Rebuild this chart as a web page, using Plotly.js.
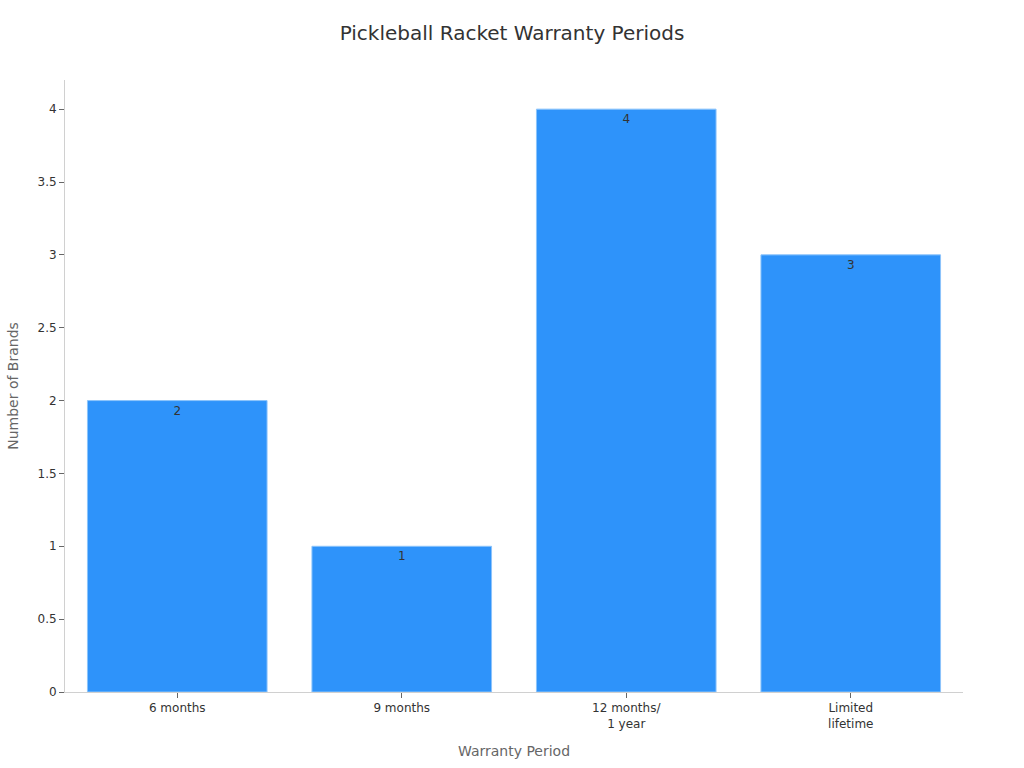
<!DOCTYPE html>
<html>
<head>
<meta charset="utf-8">
<script src="https://cdn.plot.ly/plotly-3.0.1.min.js"></script>
<style>
  html, body { margin: 0; padding: 0; background: #fff; }
  #chart { width: 1024px; height: 768px; }
</style>
</head>
<body>
<div id="chart"></div>
<script>
const periods = ["6 months", "9 months", "12 months/<br>1 year", "Limited<br>lifetime"];
const brandCounts = [2, 1, 4, 3];

Plotly.newPlot('chart', [
  {
    x: periods,
    y: brandCounts,
    type: 'bar',
    text: brandCounts.map(String),
    textposition: 'inside',
    insidetextanchor: 'end',
    textfont: { color: '#333', size: 12 },
    marker: { color: '#2E93FA', line: { color: '#8cc4fb', width: 1 } },
    hoverinfo: 'x+y'
  }
], {
  width: 1024,
  height: 768,
  margin: { l: 65, r: 61, t: 80, b: 76 },
  font: { family: 'DejaVu Sans, sans-serif', color: '#333' },
  title: { text: 'Pickleball Racket Warranty Periods', font: { size: 20, color: '#333' }, x: 0.5, y: 0.966 },
  bargap: 0.2,
  plot_bgcolor: '#fff',
  paper_bgcolor: '#fff',
  showlegend: false,
  xaxis: {
    title: { text: 'Warranty Period', font: { size: 14, color: '#666' }, standoff: 16 },
    showline: true, linecolor: '#d0d0d0', linewidth: 1,
    ticks: 'outside', ticklen: 5, tickcolor: '#666',
    tickfont: { size: 12, color: '#333' },
    showgrid: false
  },
  yaxis: {
    title: { text: 'Number of Brands', font: { size: 14, color: '#666' }, standoff: 15 },
    range: [0, 4.2],
    dtick: 0.5,
    showline: true, linecolor: '#d0d0d0', linewidth: 1,
    ticks: 'outside', ticklen: 5, tickcolor: '#666',
    tickfont: { size: 12, color: '#333' },
    showgrid: false,
    zeroline: false
  }
}, { displayModeBar: false });
</script>
</body>
</html>
